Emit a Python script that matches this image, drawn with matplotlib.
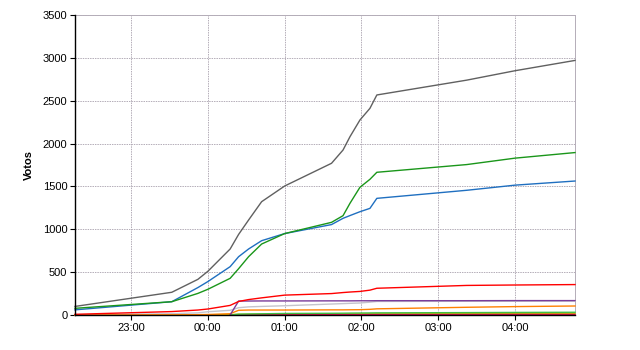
import numpy as np
import matplotlib
matplotlib.use("Agg")
import matplotlib.pyplot as plt

plt.rcParams['font.family'] = ['Liberation Sans', 'DejaVu Sans']

# hours since previous midnight (24+ = after midnight)
times = [22.27, 23.53, 23.87, 24.0, 24.29, 24.40, 24.53, 24.70, 25.0,
         25.61, 25.76, 25.85, 25.98, 26.11, 26.20, 27.37, 28.0, 28.78]

gray = [100, 265, 416, 510, 770, 940, 1108, 1322, 1505,
        1770, 1925, 2080, 2275, 2411, 2567, 2740, 2850, 2970]
green = [78, 155, 252, 300, 428, 540, 680, 828, 950,
         1081, 1159, 1303, 1490, 1583, 1665, 1755, 1830, 1895]
blue = [60, 155, 320, 390, 564, 680, 770, 867, 950,
        1055, 1128, 1160, 1205, 1244, 1361, 1455, 1515, 1563]
red = [8, 40, 58, 70, 112, 158, 180, 200, 232,
       250, 262, 268, 275, 290, 312, 345, 350, 355]
purple = [None, None, None, None, 0, 163, 163, 164, 164,
          165, 165, 165, 166, 166, 167, 167, 168, 168]
silver = [3, 15, 25, 38, 55, 85, 95, 100, 108,
          128, 133, 136, 140, 150, 158, 160, 160, 162]
orange = [0, 2, 4, 6, 15, 55, 58, 58, 58,
          60, 60, 61, 62, 66, 72, 90, 98, 105]
lime = [None, None, None, None, 0, 10, 12, 14, 18,
        20, 21, 22, 23, 24, 25, 28, 30, 32]
yellow = [0, 1, 2, 3, 5, 8, 9, 10, 11,
          12, 12, 13, 13, 14, 14, 15, 16, 17]
crimson = [None, None, None, None, 0, 3, 3, 4, 4,
           5, 5, 5, 5, 6, 6, 6, 7, 7]

series = [
    (yellow, "#d8c000"),
    (crimson, "#d0104a"),
    (lime, "#40c040"),
    (silver, "#c4c4cc"),
    (orange, "#ff8000"),
    (purple, "#7a3c9a"),
    (red, "#ff0000"),
    (blue, "#1f6fc0"),
    (green, "#1a961a"),
    (gray, "#606060"),
]

hour_ticks = [23, 24, 25, 26, 27, 28]
hour_labels = ["%02d:00" % (h % 24) for h in hour_ticks]
vote_ticks = list(range(0, 3501, 500))

fig = plt.figure(figsize=(6.4, 3.5), dpi=100)
ax = fig.add_axes([75 / 640, 1 - 315 / 350, 500 / 640, 300 / 350])

t = np.array(times)
for vals, col in series:
    v = np.array([np.nan if x is None else x for x in vals], dtype=float)
    ax.plot(t, v, color=col, lw=1.0, clip_on=False, zorder=3)

ax.set_xlim(times[0], times[-1])
ax.set_ylim(0, 3500)
ax.set_xticks(hour_ticks)
ax.set_xticklabels(hour_labels)
ax.set_yticks(vote_ticks)

grid_col = "#b4adb8"
ax.grid(True, color=grid_col, linestyle=(0, (1.5, 1)), lw=0.7, zorder=1)
for s in ["top", "right"]:
    ax.spines[s].set_color(grid_col)
    ax.spines[s].set_linestyle((0, (1.5, 1)))
    ax.spines[s].set_linewidth(0.7)
for s in ["left", "bottom"]:
    ax.spines[s].set_color("black")
    ax.spines[s].set_linewidth(1.0)
    ax.spines[s].set_zorder(4)

ax.tick_params(axis="both", length=3.5, width=0.8, labelsize=8, pad=2)
ax.set_ylabel("Votos", fontsize=8, fontweight="bold", labelpad=6)

fig.savefig("out.png", dpi=100)
